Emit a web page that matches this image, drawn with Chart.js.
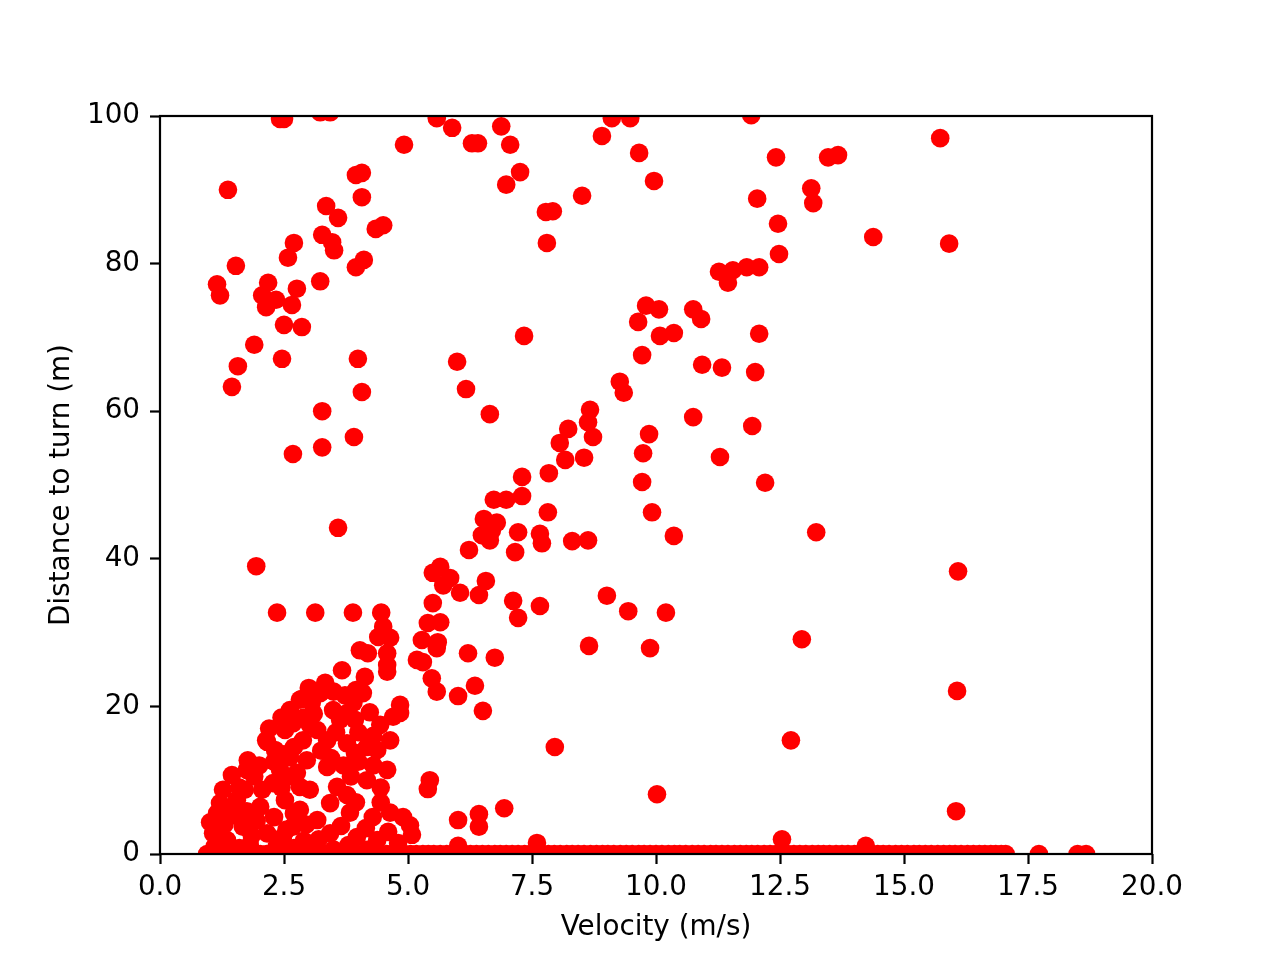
<!DOCTYPE html>
<html>
<head>
<meta charset="utf-8">
<script src="https://cdn.jsdelivr.net/npm/chart.js@4/dist/chart.umd.min.js"></script>
<style>
	body { margin: 0; background: #fff; }
	canvas { display: block; }
</style>
</head>
<body>
<canvas id="scatter-chart" width="1280" height="960"></canvas>
<script>
// points: velocity (m/s) and distance to turn (m)
const velocity = [
	2.42, 2.50, 3.23, 3.43, 1.37, 1.53, 1.15, 1.21, 2.18, 2.06,
	2.14, 2.34, 2.66, 2.58, 2.70, 2.76, 2.86, 2.50, 1.90, 1.57,
	1.45, 2.46, 3.35, 3.27, 3.47, 3.51, 3.59, 3.95, 4.07, 4.07,
	4.35, 4.50, 4.11, 3.95, 3.23, 3.99, 4.07, 3.27, 3.91, 3.27,
	2.68, 3.59, 1.94, 2.36, 3.13, 3.89, 4.46, 4.92, 5.58, 5.89,
	6.29, 6.41, 6.88, 7.06, 6.98, 7.26, 7.78, 7.92, 7.80, 8.51,
	8.91, 9.11, 9.48, 9.66, 9.96, 11.92, 12.42, 13.47, 13.67, 12.04,
	13.13, 13.17, 12.46, 12.48, 11.27, 11.45, 11.55, 11.83, 12.08, 9.80,
	10.06, 9.64, 10.75, 10.91, 10.08, 10.36, 12.08, 9.72, 10.93, 11.33,
	12.00, 7.34, 5.99, 14.38, 15.73, 15.91, 6.17, 6.65, 9.27, 9.35,
	8.67, 8.63, 8.73, 8.23, 8.06, 8.17, 8.55, 9.86, 9.74, 9.72,
	9.92, 10.36, 8.31, 8.63, 10.75, 11.29, 11.94, 12.20, 7.84, 7.30,
	7.30, 6.73, 6.98, 7.82, 6.53, 6.79, 6.69, 6.49, 6.65, 7.22,
	7.66, 7.70, 7.16, 6.23, 5.65, 5.50, 5.85, 5.71, 6.57, 6.05,
	6.43, 5.50, 7.12, 7.66, 7.22, 5.40, 5.65, 5.28, 5.60, 5.58,
	6.21, 6.75, 5.18, 5.30, 5.48, 5.58, 6.35, 6.01, 6.51, 9.01,
	9.44, 10.20, 9.88, 8.65, 13.23, 12.94, 12.72, 16.09, 16.07, 16.05,
	7.96, 10.02, 6.94, 7.60, 12.54, 14.23, 5.44, 5.40, 6.01, 6.43,
	6.43, 6.01, 4.90, 5.04, 5.08, 4.40, 4.50, 4.64, 4.03, 4.19,
	4.58, 4.58, 4.58, 3.67, 4.13, 3.33, 3.23, 3.06, 3.49, 3.77,
	4.09, 4.23, 4.84, 4.84, 4.70, 2.68, 2.52, 2.16, 2.32, 1.77,
	1.75, 1.27, 1.21, 1.01, 1.07, 1.55, 2.02, 2.28, 2.76, 2.96,
	2.88, 3.17, 3.37, 3.63, 3.77, 3.93, 4.17, 3.37, 2.82, 3.57,
	3.77, 4.17, 4.38, 4.58, 4.64, 3.43, 3.83, 3.17, 4.29, 4.64,
	4.38, 3.97, 3.43, 2.68, 2.48, 1.67, 1.35, 2.16, 2.62, 2.42,
	2.14, 2.06, 2.52, 3.02, 2.82, 1.51, 1.81, 3.02, 1.71, 1.45,
	3.93, 4.44, 3.95, 2.82, 2.62, 3.02, 3.73
];
const distance = [
	99.6, 99.6, 100.5, 100.5, 90.0, 79.7, 77.2, 75.7, 77.4, 75.7,
	74.1, 75.1, 74.4, 80.8, 82.8, 76.6, 71.4, 71.7, 69.0, 66.1,
	63.3, 67.1, 87.8, 83.9, 82.9, 81.8, 86.2, 92.0, 92.3, 89.0,
	84.7, 85.2, 80.5, 79.5, 77.6, 67.1, 62.6, 60.0, 56.5, 55.1,
	54.2, 44.2, 39.0, 32.7, 32.7, 32.7, 32.7, 96.1, 99.7, 98.4,
	96.3, 96.3, 98.6, 96.1, 90.7, 92.4, 87.0, 87.1, 82.8, 89.2,
	97.3, 99.7, 99.7, 95.0, 91.2, 100.1, 94.4, 94.4, 94.7, 88.8,
	90.2, 88.2, 85.4, 81.3, 78.9, 77.4, 79.1, 79.5, 79.5, 74.3,
	73.8, 72.1, 73.8, 72.5, 70.2, 70.6, 70.5, 67.6, 66.3, 65.9,
	65.3, 70.2, 66.7, 83.6, 97.0, 82.7, 63.0, 59.6, 64.0, 62.5,
	60.2, 58.5, 56.5, 57.6, 55.7, 53.4, 53.7, 56.9, 54.3, 50.4,
	46.3, 43.1, 42.4, 42.5, 59.2, 53.8, 58.0, 50.3, 51.6, 51.1,
	48.5, 48.0, 48.0, 46.3, 45.4, 44.9, 43.8, 43.2, 42.5, 43.6,
	43.4, 42.1, 40.9, 41.2, 38.9, 38.1, 37.4, 36.4, 37.0, 35.4,
	35.1, 34.0, 34.3, 33.6, 32.0, 31.3, 31.4, 29.0, 28.7, 27.9,
	27.2, 26.6, 26.3, 26.0, 23.8, 22.0, 22.8, 21.4, 19.4, 35.0,
	32.9, 32.7, 27.9, 28.2, 43.6, 29.1, 15.4, 38.3, 22.1, 5.8,
	14.5, 8.1, 6.2, 1.5, 2.0, 1.1, 10.0, 8.8, 4.6, 5.4,
	3.7, 1.1, 5.0, 3.9, 2.6, 29.4, 30.8, 29.3, 27.6, 27.2,
	27.2, 25.6, 24.7, 24.9, 24.0, 23.2, 21.8, 20.5, 19.5, 19.1,
	21.8, 19.2, 20.2, 19.1, 18.6, 17.7, 16.8, 15.2, 14.1, 12.7,
	11.4, 8.7, 6.9, 4.3, 2.8, 7.3, 6.4, 9.6, 11.0, 12.7,
	15.4, 16.8, 15.4, 18.2, 15.0, 13.7, 14.5, 11.8, 9.1, 9.1,
	8.0, 10.0, 14.1, 11.4, 15.4, 6.9, 5.6, 4.6, 5.0, 5.6,
	1.9, 2.3, 2.8, 3.7, 2.3, 3.7, 1.9, 2.8, 13.1, 11.4,
	15.4, 8.7, 7.3, 8.7, 6.0, 5.3, 1.2, 1.2, 8.7, 10.7,
	18.2, 17.5, 22.2, 20.9, 19.5, 17.5, 21.5
];
// the packed low-speed cluster
const clusterVelocity = [
	1.15, 1.30, 1.45, 1.60, 1.90, 2.00, 2.30, 2.45, 2.60, 2.70,
	2.50, 2.90, 3.10, 3.25, 3.45, 3.55, 3.70, 3.85, 4.00, 4.30,
	4.45, 4.00, 4.30, 3.90, 3.50, 2.95, 2.70, 2.30, 1.95, 1.85,
	2.35, 2.90, 3.65, 3.20, 3.80, 4.15, 4.60, 4.80, 1.60, 2.70,
	3.50, 4.20, 1.10, 4.45, 3.95, 2.55, 1.75, 2.20, 2.45, 2.85,
	3.00
];
const clusterDistance = [
	5.5, 4.0, 6.0, 9.0, 10.5, 12.0, 12.5, 9.0, 10.5, 14.5,
	13.5, 18.5, 19.0, 14.0, 13.0, 16.5, 12.0, 10.5, 12.5, 12.0,
	9.0, 16.5, 16.0, 20.5, 22.0, 4.0, 5.5, 5.0, 4.5, 2.5,
	1.0, 1.8, 3.8, 2.0, 1.2, 3.5, 3.0, 1.5, 0.8, 0.8,
	0.6, 0.6, 1.0, 7.0, 7.0, 3.3, 5.8, 17.0, 18.5, 21.0,
	22.5
];
// runs that never turned: distance 0
const groundVelocity = [
	0.95, 1.06, 1.18, 1.30, 1.42, 1.54, 1.66, 1.78, 1.90, 2.02,
	2.15, 2.26, 2.38, 2.50, 2.62, 2.74, 2.87, 2.98, 3.10, 3.22,
	3.35, 3.47, 3.60, 3.71, 3.83, 3.95, 4.08, 4.20, 4.32, 4.44,
	4.57, 4.68, 4.80, 4.92, 5.05, 5.17, 5.30, 5.41, 5.52, 5.65,
	5.78, 5.90, 6.02, 6.14, 6.26, 6.38, 6.50, 6.62, 6.75, 6.86,
	6.98, 7.10, 7.22, 7.35, 7.47, 7.58, 7.70, 7.83, 7.95, 8.07,
	8.20, 8.31, 8.43, 8.55, 8.68, 8.80, 8.92, 9.03, 9.15, 9.28,
	9.40, 9.52, 9.65, 9.76, 9.88, 10.00, 10.12, 10.25, 10.37, 10.48,
	10.60, 10.73, 10.85, 10.97, 11.10, 11.21, 11.33, 11.45, 11.58, 11.70,
	11.82, 11.93, 12.05, 12.18, 12.30, 12.42, 12.55, 12.66, 12.78, 12.90,
	13.02, 13.15, 13.27, 13.38, 13.50, 13.63, 13.75, 13.87, 14.00, 14.11,
	14.22, 14.35, 14.47, 14.58, 14.70, 14.83, 14.95, 15.07, 15.20, 15.31,
	15.43, 15.55, 15.68, 15.80, 15.92, 16.03, 16.15, 16.28, 16.40, 16.52,
	16.63, 16.75, 16.85, 16.96, 17.05, 17.72, 18.50, 18.67
];

const xTicks = [0, 2.5, 5, 7.5, 10, 12.5, 15, 17.5, 20];
const yTicks = [0, 20, 40, 60, 80, 100];

var points = [];
for (var i = 0; i < velocity.length; i++) {
	points.push({x: velocity[i], y: distance[i]});
}
for (var k = 0; k < clusterVelocity.length; k++) {
	points.push({x: clusterVelocity[k], y: clusterDistance[k]});
}
for (var j = 0; j < groundVelocity.length; j++) {
	points.push({x: groundVelocity[j], y: 0});
}

const tickFont = {family: 'DejaVu Sans', size: 27.8};

// matplotlib draws the frame on top of the markers
const frame = {
	id: 'frame',
	afterDatasetsDraw(chart) {
		const a = chart.chartArea;
		const ctx = chart.ctx;
		ctx.save();
		ctx.strokeStyle = '#000';
		ctx.lineWidth = 2.2;
		ctx.strokeRect(a.left, a.top, a.right - a.left, a.bottom - a.top);
		ctx.restore();
	}
};

const chartElem = document.getElementById('scatter-chart');

var chart = new Chart(chartElem, {
	type: 'scatter',
	data: {
		datasets: [{
			label: 'runs',
			data: points,
			backgroundColor: '#ff0000',
			borderWidth: 0,
			pointRadius: 9.3,
			pointHoverRadius: 9.3,
			clip: 0
		}]
	},
	options: {
		responsive: false,
		animation: false,
		layout: {
			padding: {left: 0, top: 116, right: 128, bottom: 0}
		},
		plugins: {
			legend: {display: false},
			tooltip: {enabled: false}
		},
		scales: {
			x: {
				type: 'linear',
				min: 0,
				max: 20,
				afterFit: function (s) { s.height = 106; },
				afterBuildTicks: function (s) { s.ticks = xTicks.map(v => ({value: v})); },
				border: {display: false},
				grid: {drawOnChartArea: false, drawTicks: true, tickLength: 10, tickWidth: 2.2, tickColor: '#000'},
				ticks: {
					color: '#000',
					font: tickFont,
					padding: 7,
					maxRotation: 0,
					autoSkip: false,
					callback: v => v.toFixed(1)
				},
				title: {
					display: true,
					text: 'Velocity (m/s)',
					color: '#000',
					font: tickFont,
					padding: {top: 0, bottom: 16}
				}
			},
			y: {
				type: 'linear',
				min: 0,
				max: 100,
				afterFit: function (s) { s.width = 160; },
				afterBuildTicks: function (s) { s.ticks = yTicks.map(v => ({value: v})); },
				border: {display: false},
				grid: {drawOnChartArea: false, drawTicks: true, tickLength: 10, tickWidth: 2.2, tickColor: '#000'},
				ticks: {
					color: '#000',
					font: tickFont,
					padding: 10,
					autoSkip: false
				},
				title: {
					display: true,
					text: 'Distance to turn (m)',
					color: '#000',
					font: tickFont,
					padding: {top: 45, bottom: 0}
				}
			}
		}
	},
	plugins: [frame]
});
</script>
</body>
</html>
